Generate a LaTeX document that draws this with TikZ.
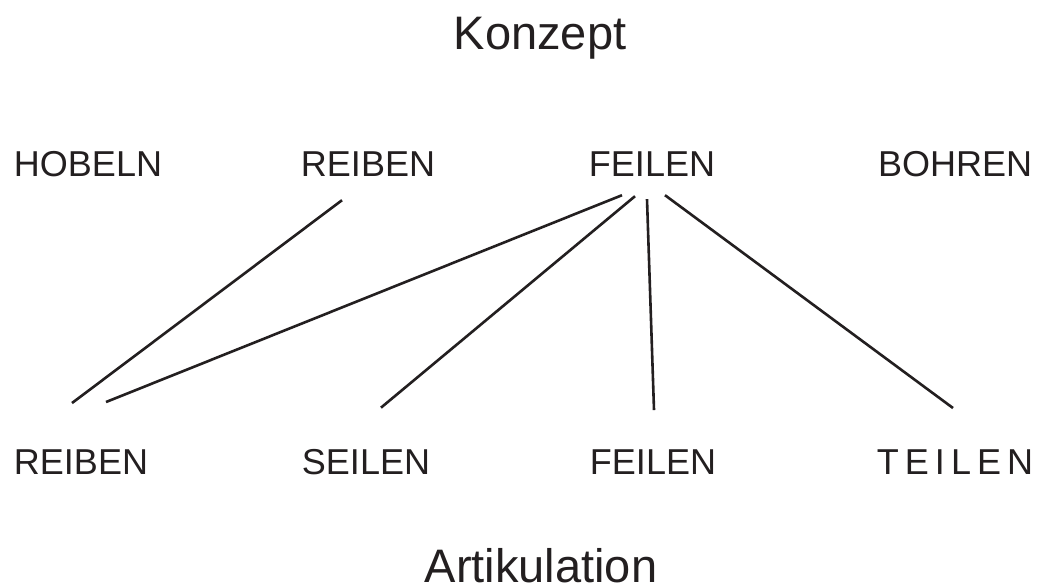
\documentclass[tikz,border=0pt]{standalone}
\usepackage{fontspec}
\setmainfont{Liberation Sans}
\usetikzlibrary{calc}
\definecolor{ink}{HTML}{231F20}
\begin{document}
\begin{tikzpicture}[x=1pt,y=-1pt,
  word/.style={anchor=base,inner sep=0pt,text=ink,font=\fontsize{36}{40}\selectfont},
  title/.style={anchor=base,inner sep=0pt,text=ink,font=\fontsize{47}{52}\selectfont},
  link/.style={draw=ink,line width=2.6pt}]
\useasboundingbox[fill=white] (0,0) rectangle (1038,586);
\node[title] (konzept) at (540,50) {Konzept};
\node[title] (artik) at (541,582) {Artikulation};
\node[word] (tH) at (88,176) {HOBELN};
\node[word] (tR) at (368,176) {REIBEN};
\node[word] (tF) at (652,176) {FEILEN};
\node[word] (tB) at (955,176) {BOHREN};
\node[word] (bR) at (81,474) {REIBEN};
\node[word] (bS) at (366,474) {SEILEN};
\node[word] (bF) at (653,474) {FEILEN};
\node[word] (bT) at (955,474) {T\hspace{6pt}E\hspace{6pt}I\hspace{6pt}L\hspace{6pt}E\hspace{6pt}N};
\draw[link] ($(tR.south)+(-26,24)$) -- ($(bR.north)+(-9,-46)$);
\draw[link] ($(tF.south)+(-30,19)$) -- ($(bR.north)+(25,-47)$);
\draw[link] ($(tF.south)+(-17,20)$) -- ($(bS.north)+(15,-41)$);
\draw[link] ($(tF.south)+(-5,23)$) -- ($(bF.north)+(1,-39)$);
\draw[link] ($(tF.south)+(13,19)$) -- ($(bT.north)+(-2,-41)$);
\end{tikzpicture}
\end{document}
